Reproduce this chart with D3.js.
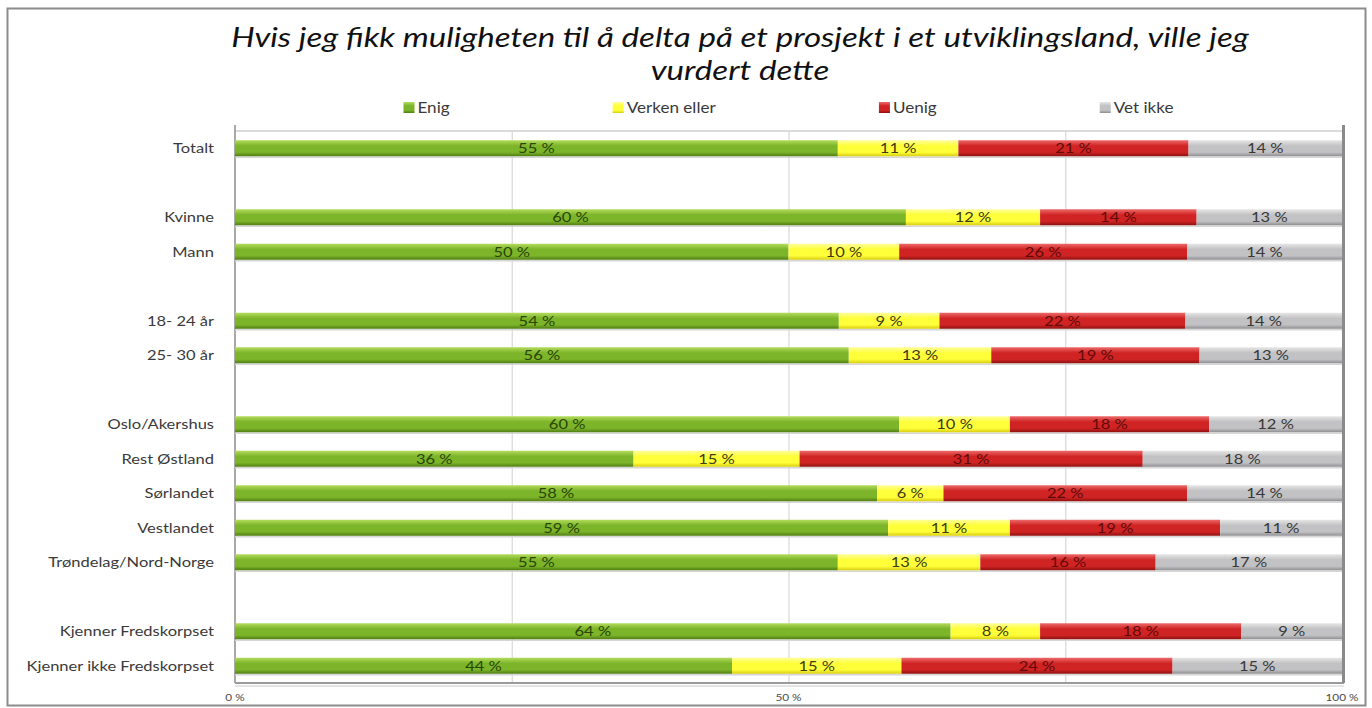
<!DOCTYPE html>
<html>
<head>
<meta charset="utf-8">
<script src="https://cdn.jsdelivr.net/npm/d3@7"></script>
<style>
  body { margin: 0; background: #fff; }
  svg { display: block; font-family: Lato, "Open Sans", sans-serif; }
</style>
</head>
<body>
<div id="chart"></div>
<script>
// categories, top to bottom
var categories = ["Totalt", "Kvinne", "Mann", "18- 24 år", "25- 30 år",
  "Oslo/Akershus", "Rest Østland", "Sørlandet", "Vestlandet", "Trøndelag/Nord-Norge",
  "Kjenner Fredskorpset", "Kjenner ikke Fredskorpset"];
// an empty row comes after these
var gapAfter = ["Totalt", "Mann", "25- 30 år", "Trøndelag/Nord-Norge"];

var seriesNames = ["Enig", "Verken eller", "Uenig", "Vet ikke"];
var enig    = [55, 60, 50, 54, 56, 60, 36, 58, 59, 55, 64, 44];
var verken  = [11, 12, 10,  9, 13, 10, 15,  6, 11, 13,  8, 15];
var uenig   = [21, 14, 26, 22, 19, 18, 31, 22, 19, 16, 18, 24];
var vetIkke = [14, 13, 14, 14, 13, 12, 18, 14, 11, 17,  9, 15];
var xTicks = [0, 0.5, 1];
var title = ["Hvis jeg fikk muligheten til å delta på et prosjekt i et utviklingsland, ville jeg", "vurdert dette"];

var colors = {
  "Enig":         {top: "#b4dc5c", mid: "#7cb42a", bot: "#4f7d12", text: "#284606"},
  "Verken eller": {top: "#ffff9a", mid: "#ffff3a", bot: "#d8cc10", text: "#3c3a12"},
  "Uenig":        {top: "#ee6a6a", mid: "#d02424", bot: "#8e1010", text: "#620a0a"},
  "Vet ikke":     {top: "#e6e6e6", mid: "#c2c2c4", bot: "#8e8e92", text: "#383838"}
};

// the original text is a bit wider than Lato
var sx = 1.18;

var width = 1372, height = 708;
var svg = d3.select("#chart").append("svg")
  .attr("width", width).attr("height", height);

// outer chart frame
svg.append("rect")
  .attr("x", 7.5).attr("y", 8.5).attr("width", 1358).attr("height", 697)
  .attr("fill", "#fff").attr("stroke", "#8c8c8c").attr("stroke-width", 2);

// build slot list with blank rows
var slots = [];
categories.forEach(function(c) {
  slots.push(c);
  if (gapAfter.indexOf(c) >= 0) slots.push(null);
});

var rows = categories.map(function(c, i) {
  return {cat: c, "Enig": enig[i], "Verken eller": verken[i], "Uenig": uenig[i], "Vet ikke": vetIkke[i]};
});

var stack = d3.stack().keys(seriesNames).offset(d3.stackOffsetExpand);
var stacked = stack(rows);

var pLeft = 235, pRight = 1342, pTop = 131, pBottom = 683;
var x = d3.scaleLinear().domain([0, 1]).range([pLeft, pRight]);
var y = d3.scaleBand().domain(d3.range(slots.length)).range([pTop, pBottom])
  .paddingInner(0.536).paddingOuter(0.268);
function yOf(cat) { return y(slots.indexOf(cat)); }
function place(px, py) { return "translate(" + px + "," + py + ") scale(" + sx + ",1)"; }

// gradients
var defs = svg.append("defs");
seriesNames.forEach(function(s, i) {
  var g = defs.append("linearGradient").attr("id", "grad" + i)
    .attr("x1", 0).attr("y1", 0).attr("x2", 0).attr("y2", 1);
  g.append("stop").attr("offset", "0%").attr("stop-color", colors[s].top);
  g.append("stop").attr("offset", "35%").attr("stop-color", colors[s].mid);
  g.append("stop").attr("offset", "75%").attr("stop-color", colors[s].mid);
  g.append("stop").attr("offset", "100%").attr("stop-color", colors[s].bot);
});

// gridlines
svg.append("g")
  .attr("transform", "translate(0," + pBottom + ")")
  .call(d3.axisBottom(x).tickValues([0.25, 0.5, 0.75]).tickSize(-(pBottom - pTop)).tickFormat(""))
  .call(function(g) { g.select(".domain").remove(); })
  .selectAll("line").attr("stroke", "#d8d8d8").attr("stroke-width", 1.2);

// plot frame
svg.append("line").attr("x1", pLeft).attr("x2", pRight).attr("y1", pTop).attr("y2", pTop)
  .attr("stroke", "#cfcfcf").attr("stroke-width", 1.5);
svg.append("line").attr("x1", pLeft).attr("x2", pRight + 2).attr("y1", pBottom).attr("y2", pBottom)
  .attr("stroke", "#9a9a9a").attr("stroke-width", 2);
svg.append("line").attr("x1", pLeft).attr("x2", pRight + 2).attr("y1", pBottom + 3).attr("y2", pBottom + 3)
  .attr("stroke", "#dcdcdc").attr("stroke-width", 1.5);
svg.append("line").attr("x1", pRight + 1.5).attr("x2", pRight + 1.5).attr("y1", pTop - 6).attr("y2", pBottom)
  .attr("stroke", "#8a8a8a").attr("stroke-width", 3);
svg.append("line").attr("x1", pLeft).attr("x2", pLeft).attr("y1", pTop - 6).attr("y2", pBottom)
  .attr("stroke", "#a8a8a8").attr("stroke-width", 2);

// thin shadow under each row
svg.append("g").selectAll("line").data(categories).enter().append("line")
  .attr("x1", pLeft).attr("x2", pRight)
  .attr("y1", function(c) { return yOf(c) + y.bandwidth() + 1; })
  .attr("y2", function(c) { return yOf(c) + y.bandwidth() + 1; })
  .attr("stroke", "#d6d6d6").attr("stroke-width", 1.5);

// bars
var layer = svg.append("g").selectAll("g").data(stacked).enter().append("g");
layer.selectAll("rect").data(function(d) { return d; }).enter().append("rect")
  .attr("x", function(d) { return x(d[0]); })
  .attr("y", function(d) { return yOf(d.data.cat); })
  .attr("width", function(d) { return x(d[1]) - x(d[0]); })
  .attr("height", y.bandwidth())
  .attr("fill", function(d, i, n) { return "url(#grad" + seriesNames.indexOf(d3.select(n[i].parentNode).datum().key) + ")"; });

// value labels
layer.each(function(s) {
  d3.select(this).selectAll("text").data(s).enter().append("text")
    .attr("transform", function(d) {
      return place((x(d[0]) + x(d[1])) / 2, yOf(d.data.cat) + y.bandwidth() / 2);
    })
    .attr("dy", "0.36em")
    .attr("text-anchor", "middle")
    .attr("font-size", 14)
    .attr("fill", colors[s.key].text)
    .text(function(d) { return d.data[s.key] + " %"; });
});

// category labels
svg.append("g").selectAll("text").data(categories).enter().append("text")
  .attr("transform", function(c) { return place(214, yOf(c) + y.bandwidth() / 2); })
  .attr("dy", "0.36em")
  .attr("text-anchor", "end")
  .attr("font-size", 14)
  .attr("fill", "#3a3a3a")
  .text(function(c) { return c; });

// x tick labels
svg.append("g").selectAll("text").data(xTicks).enter().append("text")
  .attr("transform", function(d) { return place(x(d), 697); })
  .attr("dy", "0.35em")
  .attr("text-anchor", "middle")
  .attr("font-size", 10)
  .attr("fill", "#4a4a4a")
  .text(function(d) { return Math.round(d * 100) + " %"; });

// title, stretched to the original width
var titleSel = svg.append("g").selectAll("text").data(title).enter().append("text")
  .attr("text-anchor", "middle")
  .attr("font-size", 27)
  .attr("font-style", "italic")
  .attr("fill", "#111")
  .text(function(d) { return d; });
var tsx = 1018 / titleSel.nodes()[0].getComputedTextLength();
titleSel.attr("transform", function(d, i) {
  return "translate(740," + (47 + i * 33) + ") scale(" + tsx + ",1)";
});

// legend
var gap = 163;
var leg = svg.append("g");
var items = leg.selectAll("g").data(seriesNames).enter().append("g");
items.append("rect").attr("width", 11).attr("height", 11).attr("y", -6)
  .attr("fill", function(d, i) { return "url(#grad" + i + ")"; });
items.append("text").attr("transform", place(14, 0)).attr("dy", "0.36em")
  .attr("font-size", 14.5).attr("fill", "#3a3a3a")
  .text(function(d) { return d; });
var widths = [];
items.each(function() { widths.push(this.getBBox().width); });
var total = d3.sum(widths) + gap * (widths.length - 1);
var lx = (pLeft + pRight) / 2 - total / 2;
items.attr("transform", function(d, i) {
  var pos = lx + d3.sum(widths.slice(0, i)) + gap * i;
  return "translate(" + pos + ",108)";
});
</script>
</body>
</html>
